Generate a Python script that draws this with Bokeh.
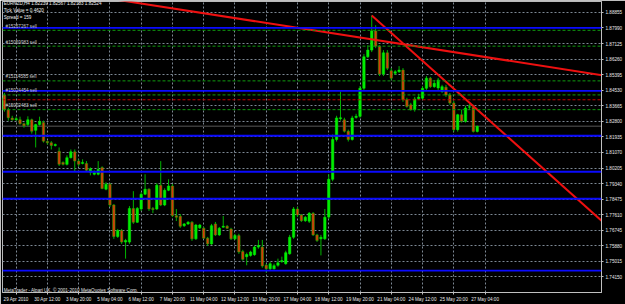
from bokeh.plotting import figure
from bokeh.models import Range1d, FixedTicker, PrintfTickFormatter, Label, Span, ColumnDataSource
from bokeh.embed import file_html
from bokeh.resources import INLINE

FONT = "Liberation Sans"

# ---- EURNZD H4 candles ----
opens = [1.8345, 1.8427, 1.8345, 1.8298, 1.8289, 1.8289, 1.8267, 1.8262, 1.8289, 1.8230,
         1.8262, 1.8273, 1.8168, 1.8161, 1.8146, 1.8114, 1.8052, 1.8041, 1.8078, 1.8111,
         1.8059, 1.8046, 1.8046, 1.7997, 1.7986, 1.7986, 1.8023, 1.7903, 1.7931, 1.7815,
         1.7640, 1.7673, 1.7609, 1.7609, 1.7796, 1.7719, 1.7793, 1.7875, 1.7903, 1.7795,
         1.7793, 1.7925, 1.7815, 1.7897, 1.7921, 1.7756, 1.7752, 1.7700, 1.7710, 1.7719,
         1.7627, 1.7688, 1.7686, 1.7631, 1.7599, 1.7710, 1.7649, 1.7692, 1.7697, 1.7682,
         1.7627, 1.7645, 1.7557, 1.7528, 1.7535, 1.7539, 1.7581, 1.7581, 1.7480, 1.7461,
         1.7461, 1.7480, 1.7500, 1.7489, 1.7544, 1.7636, 1.7793, 1.7759, 1.7728, 1.7725,
         1.7769, 1.7649, 1.7627, 1.7627, 1.7748, 1.7958, 1.8179, 1.8295, 1.8289, 1.8225,
         1.8179, 1.8302, 1.8308, 1.8464, 1.8639, 1.8676, 1.8782, 1.8698, 1.8543, 1.8661,
         1.8561, 1.8547, 1.8556, 1.8565, 1.8400, 1.8372, 1.8345, 1.8405, 1.8409, 1.8464,
         1.8520, 1.8473, 1.8466, 1.8446, 1.8470, 1.8427, 1.8382, 1.8234, 1.8317, 1.8280,
         1.8359, 1.8359, 1.82239]
highs = [1.8444, 1.8438, 1.8356, 1.8311, 1.8306, 1.8306, 1.8273, 1.8308, 1.8295, 1.8267,
         1.8306, 1.8284, 1.8173, 1.8170, 1.8157, 1.8135, 1.8057, 1.8091, 1.8124, 1.8124,
         1.8069, 1.8069, 1.8059, 1.8024, 1.8008, 1.8059, 1.8030, 1.7942, 1.7936, 1.7820,
         1.7682, 1.7682, 1.7627, 1.7809, 1.7892, 1.7804, 1.7886, 1.7986, 1.7908, 1.7804,
         1.7936, 1.8059, 1.7908, 1.7958, 1.7931, 1.7793, 1.7765, 1.7715, 1.7726, 1.7726,
         1.7710, 1.7710, 1.7693, 1.7638, 1.7710, 1.7721, 1.7693, 1.7754, 1.7704, 1.7688,
         1.7655, 1.7655, 1.7566, 1.7550, 1.7561, 1.7588, 1.7621, 1.7621, 1.7489, 1.7500,
         1.7489, 1.7517, 1.7528, 1.7561, 1.7649, 1.7804, 1.7804, 1.7765, 1.7754, 1.7776,
         1.7776, 1.7655, 1.7649, 1.7793, 1.7986, 1.8207, 1.8311, 1.8446, 1.8300, 1.8234,
         1.8311, 1.8322, 1.8477, 1.8654, 1.8703, 1.8869, 1.8814, 1.8703, 1.8676, 1.8676,
         1.8576, 1.8565, 1.8587, 1.8576, 1.8411, 1.8383, 1.8416, 1.8433, 1.8477, 1.8532,
         1.8527, 1.8510, 1.8521, 1.8483, 1.8483, 1.8438, 1.8394, 1.8322, 1.8345, 1.8367,
         1.8378, 1.8372, 1.82567]
lows = [1.8334, 1.8334, 1.8284, 1.8284, 1.8284, 1.8262, 1.8245, 1.8252, 1.8212, 1.8135,
        1.8256, 1.8162, 1.8151, 1.8124, 1.8140, 1.8032, 1.8035, 1.8035, 1.8074, 1.8004,
        1.8030, 1.8041, 1.8002, 1.7980, 1.7980, 1.7980, 1.7903, 1.7897, 1.7804, 1.7627,
        1.7632, 1.7599, 1.7517, 1.7599, 1.7710, 1.7715, 1.7782, 1.7870, 1.7782, 1.7770,
        1.7787, 1.7809, 1.7809, 1.7892, 1.7748, 1.7726, 1.7688, 1.7693, 1.7704, 1.7616,
        1.7621, 1.7682, 1.7627, 1.7588, 1.7594, 1.7643, 1.7643, 1.7688, 1.7682, 1.7621,
        1.7621, 1.7544, 1.7506, 1.7480, 1.7528, 1.7533, 1.7572, 1.7467, 1.7439, 1.7450,
        1.7456, 1.7472, 1.7494, 1.7483, 1.7539, 1.7627, 1.7748, 1.7721, 1.7721, 1.7715,
        1.7643, 1.7610, 1.7535, 1.7621, 1.7737, 1.7947, 1.8168, 1.8284, 1.8218, 1.8168,
        1.8173, 1.8295, 1.8300, 1.8455, 1.8632, 1.8665, 1.8687, 1.8532, 1.8532, 1.8565,
        1.8510, 1.8538, 1.8549, 1.8389, 1.8356, 1.8339, 1.8334, 1.8400, 1.8400, 1.8455,
        1.8466, 1.8466, 1.8455, 1.8438, 1.8416, 1.8372, 1.8223, 1.8223, 1.8273, 1.8273,
        1.8345, 1.8218, 1.82183]
closes = [1.8411, 1.8345, 1.8300, 1.8289, 1.8295, 1.8267, 1.8256, 1.8289, 1.8225, 1.8262,
          1.8280, 1.8170, 1.8161, 1.8146, 1.8151, 1.8041, 1.8041, 1.8078, 1.8111, 1.8059,
          1.8041, 1.8052, 1.8008, 1.8017, 1.7995, 1.8013, 1.7907, 1.7931, 1.7815, 1.7640,
          1.7673, 1.7609, 1.7618, 1.7796, 1.7719, 1.7796, 1.7875, 1.7903, 1.7793, 1.7790,
          1.7925, 1.7815, 1.7897, 1.7921, 1.7756, 1.7747, 1.7697, 1.7710, 1.7719, 1.7627,
          1.7704, 1.7704, 1.7631, 1.7599, 1.7700, 1.7649, 1.7686, 1.7697, 1.7686, 1.7627,
          1.7645, 1.7554, 1.7513, 1.7540, 1.7554, 1.7581, 1.7590, 1.7476, 1.7461, 1.7489,
          1.7478, 1.7494, 1.7506, 1.7550, 1.7636, 1.7793, 1.7759, 1.7728, 1.7747, 1.7769,
          1.7649, 1.7618, 1.7636, 1.7747, 1.7958, 1.8179, 1.8299, 1.8300, 1.8225, 1.8179,
          1.8299, 1.8308, 1.8464, 1.8639, 1.8676, 1.8782, 1.8698, 1.8543, 1.8661, 1.8575,
          1.8520, 1.8556, 1.8565, 1.8400, 1.8363, 1.8345, 1.8404, 1.8415, 1.8464, 1.8520,
          1.8473, 1.8492, 1.8510, 1.8473, 1.8427, 1.8382, 1.8234, 1.8317, 1.8280, 1.8354,
          1.8361, 1.8224, 1.82524]

# ---- axes ----
price_ticks = [1.73285, 1.74150, 1.75015, 1.75880, 1.76745, 1.77610, 1.78475, 1.79340,
               1.80205, 1.81070, 1.81935, 1.82800, 1.83665, 1.84530, 1.85395, 1.86260,
               1.87125, 1.87990, 1.88855]
date_label_bars = [4, 12, 20, 28, 36, 44, 52, 60, 68, 76, 84, 92, 100, 108, 116, 124]
date_labels = ["29 Apr 2010", "30 Apr 12:00", "3 May 20:00", "5 May 04:00", "6 May 12:00",
               "7 May 20:00", "11 May 04:00", "12 May 12:00", "13 May 20:00", "17 May 04:00",
               "18 May 12:00", "19 May 20:00", "21 May 04:00", "24 May 12:00", "25 May 20:00",
               "27 May 04:00"]

# ---- chart objects ----
blue_levels = [1.88000, 1.84500, 1.82000, 1.80000, 1.78500, 1.74500]
order_levels = [1.8786, 1.8698, 1.8505, 1.8427, 1.8345]
order_names = ["#15257267 sell", "#15069983 sell", "#15114585 sell", "#15024454 sell", "#15002483 sell"]
stop_levels = [1.8400]
bid_price = 1.82524
trend_a_bars = [20, 155]
trend_a_prices = [1.8989, 1.8533]
trend_b_bars = [95, 156]
trend_b_prices = [1.8869, 1.7685]

symbol = "EURNZD,H4"
tick_value = "Tick Value = 0.4620"
spread = "Spread = 159"
copyright_text = "MetaTrader - Alpari UK, \u00a9 2001-2010 MetaQuotes Software Corp."

n = len(opens)
bars = list(range(n))
up = [c >= o for o, c in zip(opens, closes)]

def pick(seq, flag):
    return [v for v, u in zip(seq, up) if u == flag]

src_up = ColumnDataSource(dict(x=pick(bars, True),
                               top=[max(o, c) for o, c, u in zip(opens, closes, up) if u],
                               bottom=[min(o, c) for o, c, u in zip(opens, closes, up) if u]))
src_dn = ColumnDataSource(dict(x=pick(bars, False),
                               top=[max(o, c) for o, c, u in zip(opens, closes, up) if not u],
                               bottom=[min(o, c) for o, c, u in zip(opens, closes, up) if not u]))

p = figure(width=625, height=304,
           x_range=Range1d(0.51, 153.8), y_range=Range1d(1.73288, 1.89462),
           y_axis_location="right", toolbar_location=None, output_backend="svg",
           background_fill_color="black", border_fill_color="black",
           min_border_left=2, min_border_right=19, min_border_top=1, min_border_bottom=10,
           outline_line_color="#b8b8b8")

# grid
p.grid.grid_line_color = "#7d8894"
p.grid.grid_line_dash = "2 2"
p.grid.grid_line_width = 1

# axes
for ax in (p.xaxis[0], p.yaxis[0]):
    ax.axis_line_color = "#c0c0c0"
    ax.major_tick_line_color = "#c0c0c0"
    ax.minor_tick_line_color = None
    ax.major_label_text_color = "#e8e8e8"
    ax.major_label_text_font = FONT
    ax.major_label_text_font_size = "4.6px"
    ax.major_tick_in = 0
    ax.major_tick_out = 2
    ax.major_label_standoff = 2
p.yaxis.ticker = FixedTicker(ticks=price_ticks)
p.yaxis.formatter = PrintfTickFormatter(format="%.5f")
p.xaxis.ticker = FixedTicker(ticks=date_label_bars)
p.xaxis.major_label_overrides = {b: s for b, s in zip(date_label_bars, date_labels)}

# horizontal levels
for lv in blue_levels:
    p.add_layout(Span(location=lv, dimension="width", line_color="#0a0aff", line_width=1.8))
for lv in order_levels:
    p.add_layout(Span(location=lv, dimension="width", line_color="#0f9a0f", line_width=1,
                      line_dash="3 2"))
for lv in stop_levels:
    p.add_layout(Span(location=lv, dimension="width", line_color="#c80000", line_width=1,
                      line_dash="3 2"))
p.add_layout(Span(location=bid_price, dimension="width", line_color="#3a3a3a", line_width=1.5,
                  level="underlay"))

# candles
p.segment(x0=bars, y0=lows, x1=bars, y1=highs, line_color="#00b400", line_width=1)
p.vbar(x="x", top="top", bottom="bottom", width=0.62, source=src_up,
       fill_color="#00ee00", line_color="#00ee00", line_width=0.5)
p.vbar(x="x", top="top", bottom="bottom", width=0.62, source=src_dn,
       fill_color="#d83a0a", line_color="#20b000", line_width=0.5)

# trend lines
p.line(trend_a_bars, trend_a_prices, line_color="#ee1010", line_width=2)
p.line(trend_b_bars, trend_b_prices, line_color="#ee1010", line_width=2)

# order labels
for lv, name in zip(order_levels, order_names):
    p.add_layout(Label(x=1.3, y=lv, text=name, text_align="left", text_baseline="bottom",
                       y_offset=1.5, text_color="#c8c8c8", text_font=FONT,
                       text_font_size="4.6px"))

# price boxes on the scale
for lv in blue_levels:
    p.add_layout(Label(x=154.2, y=lv, text=f"{lv:.5f}", text_align="left",
                       text_baseline="middle", text_color="white", text_font=FONT,
                       text_font_size="4.6px", background_fill_color="#0a0aff", padding=1))
p.add_layout(Label(x=154.2, y=bid_price, text=f"{bid_price:.5f}", text_align="left",
                   text_baseline="middle", text_color="black", text_font=FONT,
                   text_font_size="4.6px", background_fill_color="#f0f0f0", padding=1))

# header and footer texts
header = f"{symbol} {opens[-1]:.5f} {highs[-1]:.5f} {lows[-1]:.5f} {closes[-1]:.5f}"
for txt, yv in zip([header, tick_value, spread], [1.89335, 1.88948, 1.88579]):
    p.add_layout(Label(x=0.8, y=yv, text=txt, text_align="left", text_baseline="middle",
                       text_color="#f0f0f0", text_font=FONT, text_font_size="4.6px"))
p.add_layout(Label(x=0.8, y=1.73426, text=copyright_text, text_align="left",
                   text_baseline="middle", text_color="#e0e0e0", text_font=FONT,
                   text_font_size="4.6px"))

open("out.html", "w").write(file_html(p, INLINE))
